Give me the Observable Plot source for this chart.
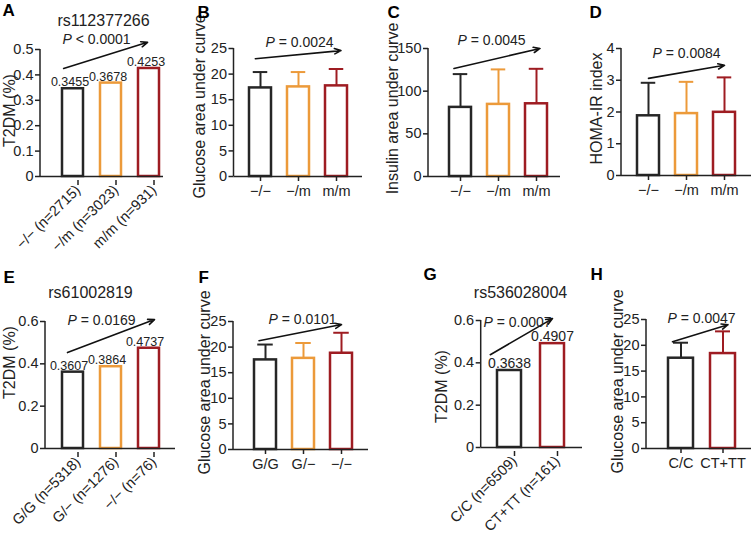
<!DOCTYPE html>
<html><head><meta charset="utf-8">
<script src="https://cdn.jsdelivr.net/npm/d3@7"></script>
<script src="https://cdn.jsdelivr.net/npm/@observablehq/plot@0.6"></script>
<style>
body{margin:0;background:#fff;}
#fig{position:relative;width:753px;height:536px;overflow:hidden;background:#fff;}
#fig svg{position:absolute;}
</style></head><body><div id="fig"></div>
<script>
// ---------------- data ----------------
const genoA = ["−/− (n=2715)", "−/m (n=3023)", "m/m (n=931)"];
const t2dmA = [0.3455, 0.3678, 0.4253];
const genoBCD = ["−/−", "−/m", "m/m"];
const glucoseB = [17.3, 17.5, 17.7];
const glucoseSdB = [3.1, 2.9, 3.3];
const insulinC = [81, 84.5, 85.2];
const insulinSdC = [39, 41, 41];
const homaD = [1.88, 1.95, 1.99];
const homaSdD = [1.04, 1.0, 1.1];
const genoE = ["G/G (n=5318)", "G/− (n=1276)", "−/− (n=76)"];
const t2dmE = [0.3607, 0.3864, 0.4737];
const genoF = ["G/G", "G/−", "−/−"];
const glucoseF = [17.5, 17.8, 18.8];
const glucoseSdF = [3.0, 3.0, 4.0];
const genoG = ["C/C (n=6509)", "CT+TT (n=161)"];
const t2dmG = [0.3638, 0.4907];
const genoH = ["C/C", "CT+TT"];
const glucoseH = [17.5, 18.4];
const glucoseSdH = [3.0, 4.3];

const ticksT2DM5 = [0, 0.1, 0.2, 0.3, 0.4, 0.5];
const ticksT2DM6 = [0, 0.2, 0.4, 0.6];
const ticksGlucose = [0, 5, 10, 15, 20, 25];
const ticksInsulin = [0, 50, 100, 150];
const ticksHoma = [0, 1, 2, 3, 4];

const pValues = ["< 0.0001", "= 0.0024", "= 0.0045", "= 0.0084", "= 0.0169", "= 0.0101", "= 0.0007", "= 0.0047"];
// trend arrow start / end values (y units) for panels A..H
const arrowStart = [0.437, 23.1, 128.3, 3.06, 0.463, 21.5, 0.491, 21.2];
const arrowEnd = [0.530, 24.5, 149.1, 3.47, 0.599, 24.4, 0.609, 23.7];
const snpTitles = ["rs112377266", "rs61002819", "rs536028004"];
const yTitles = ["T2DM (%)", "Glucose area under curve", "Insulin area under curve", "HOMA-IR index"];
const panelLetters = ["A", "B", "C", "D", "E", "F", "G", "H"];

// ---------------- styling / layout ----------------
const palette3 = ["#262626", "#ec9a3a", "#9e1c22"];
const palette2 = ["#262626", "#9e1c22"];
const FONT = "'Liberation Sans', Arial, Helvetica, sans-serif";
const INK = "#222";

function bandOpts(L, n) {
  const s = L.step, bw = L.bw;
  const span = L.R - L.axisX;
  const outer = span - ((n - 1) * s + bw);
  return {type: "band", paddingInner: 1 - bw / s, paddingOuter: outer / (2 * s),
          align: Math.max(0, Math.min(1, (L.first - L.axisX) / outer)), label: null};
}

function yAxisLine(index, scales, values, dims) {
  const l = document.createElementNS("http://www.w3.org/2000/svg", "line");
  l.setAttribute("x1", dims.marginLeft); l.setAttribute("x2", dims.marginLeft);
  l.setAttribute("y1", dims.marginTop); l.setAttribute("y2", dims.height - dims.marginBottom);
  l.setAttribute("stroke", INK); l.setAttribute("stroke-width", 1.5);
  return l;
}

function drawPanel(L, c) {
  const n = c.cats.length;
  const rows = c.cats.map((g, i) => ({g, v: c.vals[i], sd: c.sds ? c.sds[i] : null, col: c.palette[i]}));
  const yMax = c.yTicks[c.yTicks.length - 1];
  const ml = L.axisX - L.left, mt = L.yTop - L.top;
  const mr = L.left + L.w - L.R, mb = L.top + L.h - L.y0;
  const fx = px => px - L.axisX, fy = py => py - L.yTop;
  const marks = [];
  marks.push(Plot.barY(rows, {x: "g", y: "v", stroke: "col", fill: "white", strokeWidth: 2.5}));
  if (c.sds) {
    marks.push(Plot.ruleX(rows, {x: "g", y1: "v", y2: d => d.v + d.sd, stroke: "col", strokeWidth: 2}));
    marks.push(Plot.tickY(rows, {x: "g", y: d => d.v + d.sd, stroke: "col", strokeWidth: 2,
      insetLeft: (L.bw - 15) / 2, insetRight: (L.bw - 15) / 2}));
  }
  if (c.valueLabels) {
    marks.push(Plot.text(rows, {x: "g", y: "v", text: d => String(d.v), lineAnchor: "bottom",
      dy: -2.5, dx: L.vdx || 0, fontSize: L.vfont, fill: INK}));
  }
  marks.push(Plot.ruleY([0], {stroke: INK, strokeWidth: 1.5}));
  marks.push(yAxisLine);
  marks.push(Plot.axisY({ticks: c.yTicks, tickFormat: d => String(d), tickSize: 5, tickPadding: 2,
    fontSize: 14.5, strokeWidth: 1.5, label: null}));
  marks.push(Plot.axisX({tickSize: 5, tickPadding: c.rotate ? 2 : 4, fontSize: 14.5,
    tickRotate: c.rotate ? -45 : 0, strokeWidth: 1.5, label: null,
    dx: c.rotate ? 5 : 0, dy: c.rotate ? 4 : 0}));
  // trend arrow
  marks.push(Plot.arrow([{a: c.cats[0], b: c.cats[n - 1]}], {
    x1: "a", x2: "b", y1: () => c.arrow[0], y2: () => c.arrow[1],
    insetStart: L.ai[0], insetEnd: L.ai[1], headLength: 6.5, headAngle: 45, strokeWidth: 1.6, stroke: "#111"}));
  // P value text with italic P
  const junction = L.p[0] + 9.3;
  marks.push(Plot.text(["P"], {frameAnchor: "top-left", text: d => d, dx: fx(junction), dy: fy(L.p[1]),
    textAnchor: "end", lineAnchor: "middle", fontStyle: "italic", fontSize: 14, fill: INK}));
  marks.push(Plot.text([" " + c.p], {frameAnchor: "top-left", text: d => d, dx: fx(junction), dy: fy(L.p[1]),
    textAnchor: "start", lineAnchor: "middle", fontSize: 14, fill: INK}));
  if (c.title) {
    marks.push(Plot.text([c.title], {frameAnchor: "top-left", text: d => d, dx: fx(L.t[0]), dy: fy(L.t[1]),
      textAnchor: "middle", lineAnchor: "middle", fontSize: 16, fill: INK}));
  }
  marks.push(Plot.text([c.ylabel], {frameAnchor: "top-left", text: d => d, dx: fx(L.yl[0]), dy: fy(L.yl[1]),
    rotate: -90, textAnchor: "middle", lineAnchor: "middle", fontSize: 16, fill: INK}));
  marks.push(Plot.text([c.letter], {frameAnchor: "top-left", text: d => d, dx: fx(L.lt[0]), dy: fy(L.lt[1]),
    textAnchor: "start", lineAnchor: "top", fontSize: 17, fontWeight: "bold", fill: "#000"}));

  const svg = Plot.plot({
    width: L.w, height: L.h, marginLeft: ml, marginRight: mr, marginTop: mt, marginBottom: mb,
    style: {background: "transparent", color: INK, fontFamily: FONT, overflow: "visible"},
    x: Object.assign(bandOpts(L, n), {domain: c.cats}),
    y: {domain: [0, yMax], label: null},
    color: {type: "identity"},
    marks
  });
  svg.style.left = L.left + "px";
  svg.style.top = L.top + "px";
  document.getElementById("fig").appendChild(svg);
}

const LA = {left: 0, top: 0, w: 188, h: 258, axisX: 40, R: 163, yTop: 49, y0: 176, first: 60.55, step: 38.6, bw: 21.8,
  vdx: -3, vfont: 12.5, ai: [-9.8, 1.5], p: [62, 39], t: [103, 20], yl: [9, 110], lt: [2, 3]};
const LB = {left: 188, top: 0, w: 194, h: 258, axisX: 233.5, R: 362, yTop: 48, y0: 176, first: 247.95, step: 38.65, bw: 22.5,
  ai: [-5.2, -4.5], p: [265, 42], yl: [199, 106], lt: [197, 5]};
const LC = {left: 382, top: 0, w: 204, h: 258, axisX: 428, R: 560, yTop: 48, y0: 176, first: 448.25, step: 38.5, bw: 22.5,
  ai: [-6.7, -3.6], p: [457, 40], yl: [392, 108], lt: [387, 5]};
const LD = {left: 586, top: 0, w: 167, h: 258, axisX: 621, R: 751, yTop: 48, y0: 175, first: 636.25, step: 38.5, bw: 22.5,
  ai: [0, 0], p: [652, 53], yl: [596, 108], lt: [589, 5]};
const LE = {left: 0, top: 258, w: 190, h: 278, axisX: 45, R: 175, yTop: 321, y0: 448, first: 61.25, step: 38.5, bw: 21.5,
  vdx: -4, vfont: 12.5, ai: [-5.9, -5.9], p: [67, 320], t: [90, 292], yl: [9, 362], lt: [3, 270]};
const LF = {left: 190, top: 258, w: 235, h: 278, axisX: 233, R: 368, yTop: 321, y0: 449, first: 254.25, step: 38, bw: 21.5,
  ai: [-6.6, 0], p: [268, 319], yl: [204, 382], lt: [198, 270]};
const LG = {left: 425, top: 258, w: 181, h: 278, axisX: 480.7, R: 582, yTop: 320, y0: 447, first: 496.95, step: 43.3, bw: 24.5,
  vdx: 0, vfont: 14, ai: [-22.2, 0], p: [483, 322], t: [520, 292], yl: [441, 386], lt: [423, 267]};
const LH = {left: 606, top: 258, w: 147, h: 278, axisX: 646, R: 751, yTop: 319, y0: 448, first: 668.25, step: 42, bw: 25,
  ai: [-8.9, -5.2], p: [667, 318], yl: [617, 381], lt: [590, 267]};

drawPanel(LA, {cats: genoA, vals: t2dmA, palette: palette3, yTicks: ticksT2DM5, rotate: true, valueLabels: true,
  arrow: [arrowStart[0], arrowEnd[0]], p: pValues[0], title: snpTitles[0], ylabel: yTitles[0], letter: panelLetters[0]});
drawPanel(LB, {cats: genoBCD, vals: glucoseB, sds: glucoseSdB, palette: palette3, yTicks: ticksGlucose,
  arrow: [arrowStart[1], arrowEnd[1]], p: pValues[1], ylabel: yTitles[1], letter: panelLetters[1]});
drawPanel(LC, {cats: genoBCD, vals: insulinC, sds: insulinSdC, palette: palette3, yTicks: ticksInsulin,
  arrow: [arrowStart[2], arrowEnd[2]], p: pValues[2], ylabel: yTitles[2], letter: panelLetters[2]});
drawPanel(LD, {cats: genoBCD, vals: homaD, sds: homaSdD, palette: palette3, yTicks: ticksHoma,
  arrow: [arrowStart[3], arrowEnd[3]], p: pValues[3], ylabel: yTitles[3], letter: panelLetters[3]});
drawPanel(LE, {cats: genoE, vals: t2dmE, palette: palette3, yTicks: ticksT2DM6, rotate: true, valueLabels: true,
  arrow: [arrowStart[4], arrowEnd[4]], p: pValues[4], title: snpTitles[1], ylabel: yTitles[0], letter: panelLetters[4]});
drawPanel(LF, {cats: genoF, vals: glucoseF, sds: glucoseSdF, palette: palette3, yTicks: ticksGlucose,
  arrow: [arrowStart[5], arrowEnd[5]], p: pValues[5], ylabel: yTitles[1], letter: panelLetters[5]});
drawPanel(LG, {cats: genoG, vals: t2dmG, palette: palette2, yTicks: ticksT2DM6, rotate: true, valueLabels: true,
  arrow: [arrowStart[6], arrowEnd[6]], p: pValues[6], title: snpTitles[2], ylabel: yTitles[0], letter: panelLetters[6]});
drawPanel(LH, {cats: genoH, vals: glucoseH, sds: glucoseSdH, palette: palette2, yTicks: ticksGlucose,
  arrow: [arrowStart[7], arrowEnd[7]], p: pValues[7], ylabel: yTitles[1], letter: panelLetters[7]});
</script></body></html>
